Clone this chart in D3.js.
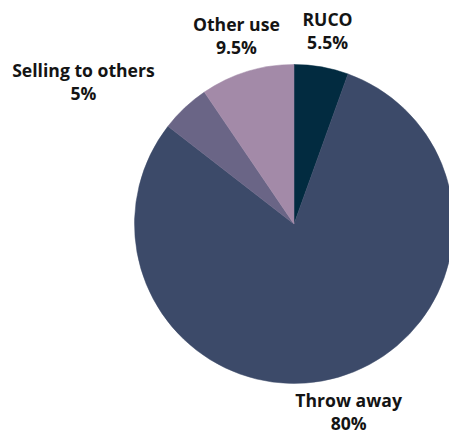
<!DOCTYPE html>
<html>
<head>
<meta charset="utf-8">
<script src="https://cdn.jsdelivr.net/npm/d3@7"></script>
<style>
  html, body { margin: 0; padding: 0; background: #ffffff; overflow: hidden; }
  svg { display: block; }
  .lbl { font-family: "Open Sans", "Noto Sans", sans-serif; font-weight: 700; font-size: 17.6px; fill: #141414; }
</style>
</head>
<body>
<svg id="chart" width="449" height="437"></svg>
<script>
// Used cooking oil: what households do with it
const categories = ["RUCO", "Throw away", "Selling to others", "Other use"];
const shares = [5.5, 80, 5, 9.5];
const shareLabels = ["5.5%", "80%", "5%", "9.5%"];
const sliceColors = ["#022b40", "#3c4a69", "#6a6586", "#a38aa8"];

// Layout
const width = 449, height = 437;
const cx = 294, cy = 224, radius = 159.5;
const labelRadius = 175;
const lineGap = 23;
// Extra shift for the long left-hand label so it clears the pie
const labelNudge = { "Selling to others": [-72, 6] };

const svg = d3.select("#chart");
const g = svg.append("g").attr("transform", `translate(${cx},${cy})`);

const data = categories.map((c, i) => ({ name: c, value: shares[i], text: shareLabels[i], color: sliceColors[i] }));

const pie = d3.pie().value(d => d.value).sort(null);
const arc = d3.arc().innerRadius(0).outerRadius(radius);
const arcs = pie(data);

g.selectAll("path.slice")
  .data(arcs)
  .enter()
  .append("path")
  .attr("class", "slice")
  .attr("d", arc)
  .attr("fill", d => d.data.color)
  .attr("stroke", d => d.data.color)
  .attr("stroke-width", 0.5);

// Labels: anchored just outside the rim, box pushed outward along the slice direction
const labels = g.selectAll("g.label")
  .data(arcs)
  .enter()
  .append("g")
  .attr("class", "label");

labels.each(function (d) {
  const grp = d3.select(this);
  const t1 = grp.append("text").attr("class", "lbl").attr("text-anchor", "middle").text(d.data.name);
  const t2 = grp.append("text").attr("class", "lbl").attr("text-anchor", "middle").text(d.data.text);
  const w = Math.max(t1.node().getComputedTextLength(), t2.node().getComputedTextLength());
  const h = 40;
  const mid = (d.startAngle + d.endAngle) / 2;
  const vx = Math.sin(mid), vy = -Math.cos(mid);
  const px = vx * labelRadius, py = vy * labelRadius;
  const t = Math.min(Math.abs(vx) > 1e-6 ? (w / 2) / Math.abs(vx) : Infinity,
                     Math.abs(vy) > 1e-6 ? (h / 2) / Math.abs(vy) : Infinity);
  let bx = px + vx * t, by = py + vy * t;
  const n = labelNudge[d.data.name];
  if (n) { bx += n[0]; by += n[1]; }
  t1.attr("x", bx).attr("y", by - 5.5);
  t2.attr("x", bx).attr("y", by - 5.5 + lineGap);
});
</script>
</body>
</html>
